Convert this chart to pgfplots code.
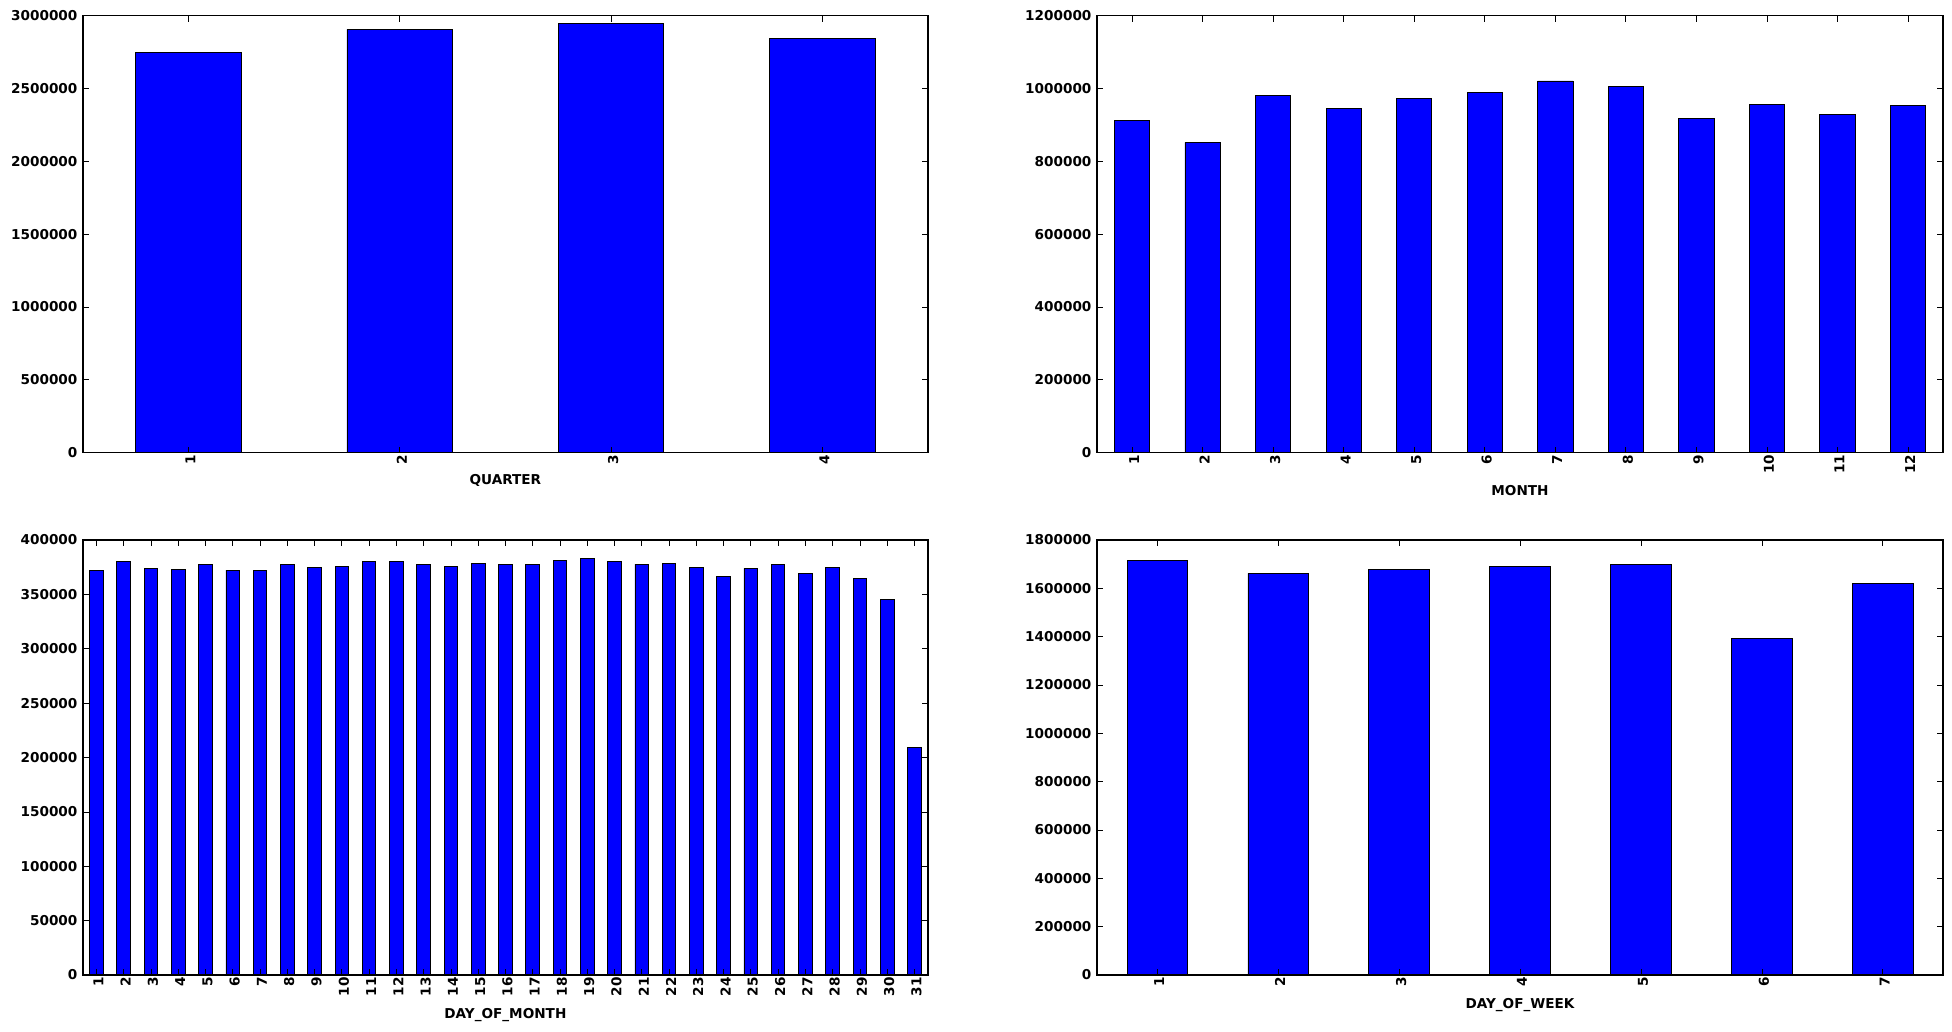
\documentclass[border=0pt]{standalone}
\usepackage{fontspec}
\setmainfont{DejaVu Sans}
\usepackage{pgfplots}
\pgfplotsset{compat=1.18}
\newcommand{\tf}{\fontsize{6.8}{8}\selectfont\bfseries}
\pgfplotsset{
  mystyle/.style={
    scale only axis,
    anchor=south west,
    axis on top,
    ybar, bar width=0.5,
    ymin=0,
    axis line style={line width=0.8pt},
    tick style={black, line width=0.35pt},
    major tick length=3pt,
    tick align=inside,
    xtick pos=both, ytick pos=both,
    scaled y ticks=false,
    /pgf/number format/assume math mode=true,
    yticklabel style={/pgf/number format/fixed, /pgf/number format/1000 sep={}, font=\tf, inner sep=1pt, xshift=-1.5pt},
    xticklabel style={rotate=90, anchor=east, font=\tf, inner sep=1pt, yshift=-1pt},
    xlabel style={font=\tf, at={(axis description cs:0.5,0)}, anchor=center},
    cycle list={{fill=blue, draw=black, line width=0.4pt}},
  }
}
\begin{document}
\begin{tikzpicture}
\path (0,0) rectangle (976pt,516pt);
% QUARTER
\begin{axis}[mystyle, at={(41.4pt,289.7pt)}, width=422.6pt, height=218.5pt,
  xmin=-0.5, xmax=3.5, ymax=3000000, ytick={0,500000,...,3000000},
  xtick={0,1,2,3}, xticklabels={1,2,3,4},
  xlabel={QUARTER}, xlabel style={yshift=-14pt}]
\addplot coordinates {(0,2748000) (1,2906000) (2,2947000) (3,2840000)};
\end{axis}
% MONTH
\begin{axis}[mystyle, at={(548.4pt,289.7pt)}, width=423.2pt, height=218.5pt,
  xmin=-0.5, xmax=11.5, ymax=1200000, ytick={0,200000,...,1200000},
  xtick={0,...,11}, xticklabels={1,2,3,4,5,6,7,8,9,10,11,12},
  xlabel={MONTH}, xlabel style={yshift=-19pt}]
\addplot coordinates {(0,912600) (1,852000) (2,981000) (3,945500) (4,973000) (5,989500)
  (6,1020600) (7,1006000) (8,918000) (9,955600) (10,929000) (11,953800)};
\end{axis}
% DAY_OF_MONTH
\begin{axis}[mystyle, at={(41.4pt,28.5pt)}, width=422.6pt, height=217.5pt,
  xmin=-0.5, xmax=30.5, ymax=400000, ytick={0,50000,...,400000},
  xtick={0,...,30}, xticklabels={1,2,3,4,5,6,7,8,9,10,11,12,13,14,15,16,17,18,19,20,21,22,23,24,25,26,27,28,29,30,31},
  xlabel={DAY\_OF\_MONTH}, xlabel style={yshift=-20pt}]
\addplot coordinates {(0,372200) (1,380400) (2,374000) (3,373000) (4,377700) (5,372200)
  (6,372200) (7,377700) (8,374900) (9,375800) (10,380400) (11,380400) (12,377700)
  (13,375800) (14,378600) (15,377700) (16,377700) (17,381300) (18,383200) (19,380400)
  (20,377700) (21,378600) (22,374900) (23,366600) (24,374000) (25,377700) (26,369400)
  (27,374900) (28,364800) (29,345500) (30,209600)};
\end{axis}
% DAY_OF_WEEK
\begin{axis}[mystyle, at={(548.4pt,28.5pt)}, width=423.2pt, height=217.5pt,
  xmin=-0.5, xmax=6.5, ymax=1800000, ytick={0,200000,...,1800000},
  xtick={0,...,6}, xticklabels={1,2,3,4,5,6,7},
  xlabel={DAY\_OF\_WEEK}, xlabel style={yshift=-15pt}]
\addplot coordinates {(0,1716000) (1,1662000) (2,1679000) (3,1691000) (4,1699000) (5,1394000) (6,1622000)};
\end{axis}
\end{tikzpicture}
\end{document}
